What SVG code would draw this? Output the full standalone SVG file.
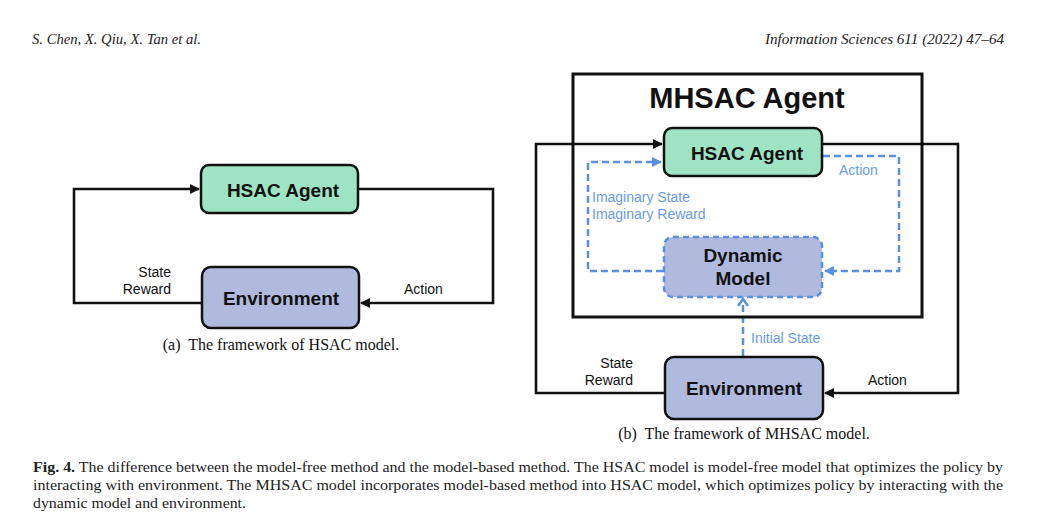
<svg xmlns="http://www.w3.org/2000/svg" width="1046" height="531" viewBox="0 0 1046 531">
<defs>
<style>
.lbl{font-family:"Liberation Sans",Arial,sans-serif;font-size:14px;fill:#111}
.blbl{font-family:"Liberation Sans",Arial,sans-serif;font-size:14px;fill:#6b9be6}
.node{font-family:"Liberation Sans",Arial,sans-serif;font-size:19px;font-weight:bold;fill:#111;text-anchor:middle}
.cap{font-family:"Liberation Serif","Times New Roman",serif;font-size:16px;fill:#111;text-anchor:middle}
.hdr{font-family:"Liberation Serif","Times New Roman",serif;font-size:14px;font-style:italic;fill:#222}
.body{font-family:"Liberation Serif","Times New Roman",serif;font-size:14px;fill:#222}
.green{fill:#9fe3c5;stroke:#111;stroke-width:2.5}
.blue{fill:#b0badf;stroke:#111;stroke-width:2.5}
.dyn{fill:#b0badf;stroke:#5b8fe0;stroke-width:2.5;stroke-dasharray:6 4}
.k{fill:none;stroke:#111;stroke-width:2.6}
.d{fill:none;stroke:#5b8fe0;stroke-width:2.5;stroke-dasharray:7 4}
</style>
<marker id="ak" markerWidth="10" markerHeight="10" refX="9" refY="5" orient="auto" markerUnits="userSpaceOnUse"><path d="M0,0 L10,5 L0,10 z" fill="#111"/></marker>
<marker id="ab" markerWidth="10" markerHeight="10" refX="9" refY="5" orient="auto" markerUnits="userSpaceOnUse"><path d="M0,0 L10,5 L0,10 z" fill="#5b8fe0"/></marker>
<marker id="ao" markerWidth="12" markerHeight="12" refX="9" refY="6" orient="auto" markerUnits="userSpaceOnUse"><path d="M2,1 L9,6 L2,11" fill="none" stroke="#5b8fe0" stroke-width="2.5"/></marker>
</defs>
<rect width="1046" height="531" fill="#fff"/>
<text class="hdr" x="32" y="44" textLength="169" lengthAdjust="spacingAndGlyphs">S. Chen, X. Qiu, X. Tan et al.</text>
<text class="hdr" x="765" y="44" textLength="239" lengthAdjust="spacingAndGlyphs">Information Sciences 611 (2022) 47–64</text>

<g id="connectors">
<path class="k" d="M202,303 H74 V189 H199" marker-end="url(#ak)"/>
<path class="k" d="M358,189 H493 V303 H361" marker-end="url(#ak)"/>
<path class="k" d="M665,393 H536 V144 H662" marker-end="url(#ak)"/>
<path class="k" d="M823,144 H958 V393 H825" marker-end="url(#ak)"/>
<path class="d" d="M663,271 H588 V162 H661" marker-end="url(#ab)"/>
<path class="d" d="M823,156 H899 V271 H825" marker-end="url(#ab)"/>
<path class="d" d="M743,356 V299" marker-end="url(#ao)"/>
</g>

<g id="labels">
<text class="lbl" x="171" y="277" text-anchor="end">State</text>
<text class="lbl" x="171" y="294" text-anchor="end">Reward</text>
<text class="lbl" x="404" y="294">Action</text>
<text class="lbl" x="633" y="368" text-anchor="end">State</text>
<text class="lbl" x="633" y="385" text-anchor="end">Reward</text>
<text class="lbl" x="868" y="385">Action</text>
<text class="blbl" x="839" y="175">Action</text>
<text class="blbl" x="592" y="202">Imaginary State</text>
<text class="blbl" x="592" y="219">Imaginary Reward</text>
<text class="blbl" x="751" y="343">Initial State</text>
</g>

<g id="hsac-agent-a">
<rect class="green" x="201" y="165" width="157" height="48" rx="8"/>
<text class="node" x="283" y="197">HSAC Agent</text>
</g>
<g id="environment-a">
<rect class="blue" x="202" y="267" width="157" height="61" rx="9"/>
<text class="node" x="281" y="305">Environment</text>
</g>

<g id="mhsac-agent">
<rect x="573" y="74" width="349" height="243" fill="none" stroke="#111" stroke-width="3"/>
<text class="node" x="747" y="108" style="font-size:29px">MHSAC Agent</text>
</g>
<g id="hsac-agent-b">
<rect class="green" x="664" y="128" width="158" height="48" rx="8"/>
<text class="node" x="747" y="160">HSAC Agent</text>
</g>
<g id="dynamic-model">
<rect class="dyn" x="664" y="237" width="158" height="60" rx="9"/>
<text class="node" x="743" y="262">Dynamic</text>
<text class="node" x="743" y="285">Model</text>
</g>
<g id="environment-b">
<rect class="blue" x="665" y="357" width="158" height="62" rx="9"/>
<text class="node" x="744" y="395">Environment</text>
</g>

<text class="cap" x="281" y="350" xml:space="preserve">(a)  The framework of HSAC model.</text>
<text class="cap" x="744" y="439" xml:space="preserve">(b)  The framework of MHSAC model.</text>

<text class="body" x="33" y="472" textLength="970" lengthAdjust="spacingAndGlyphs"><tspan font-weight="bold">Fig. 4.</tspan> The difference between the model-free method and the model-based method. The HSAC model is model-free model that optimizes the policy by</text>
<text class="body" x="33" y="490" textLength="970" lengthAdjust="spacingAndGlyphs">interacting with environment. The MHSAC model incorporates model-based method into HSAC model, which optimizes policy by interacting with the</text>
<text class="body" x="33" y="508" textLength="213" lengthAdjust="spacingAndGlyphs">dynamic model and environment.</text>
</svg>
